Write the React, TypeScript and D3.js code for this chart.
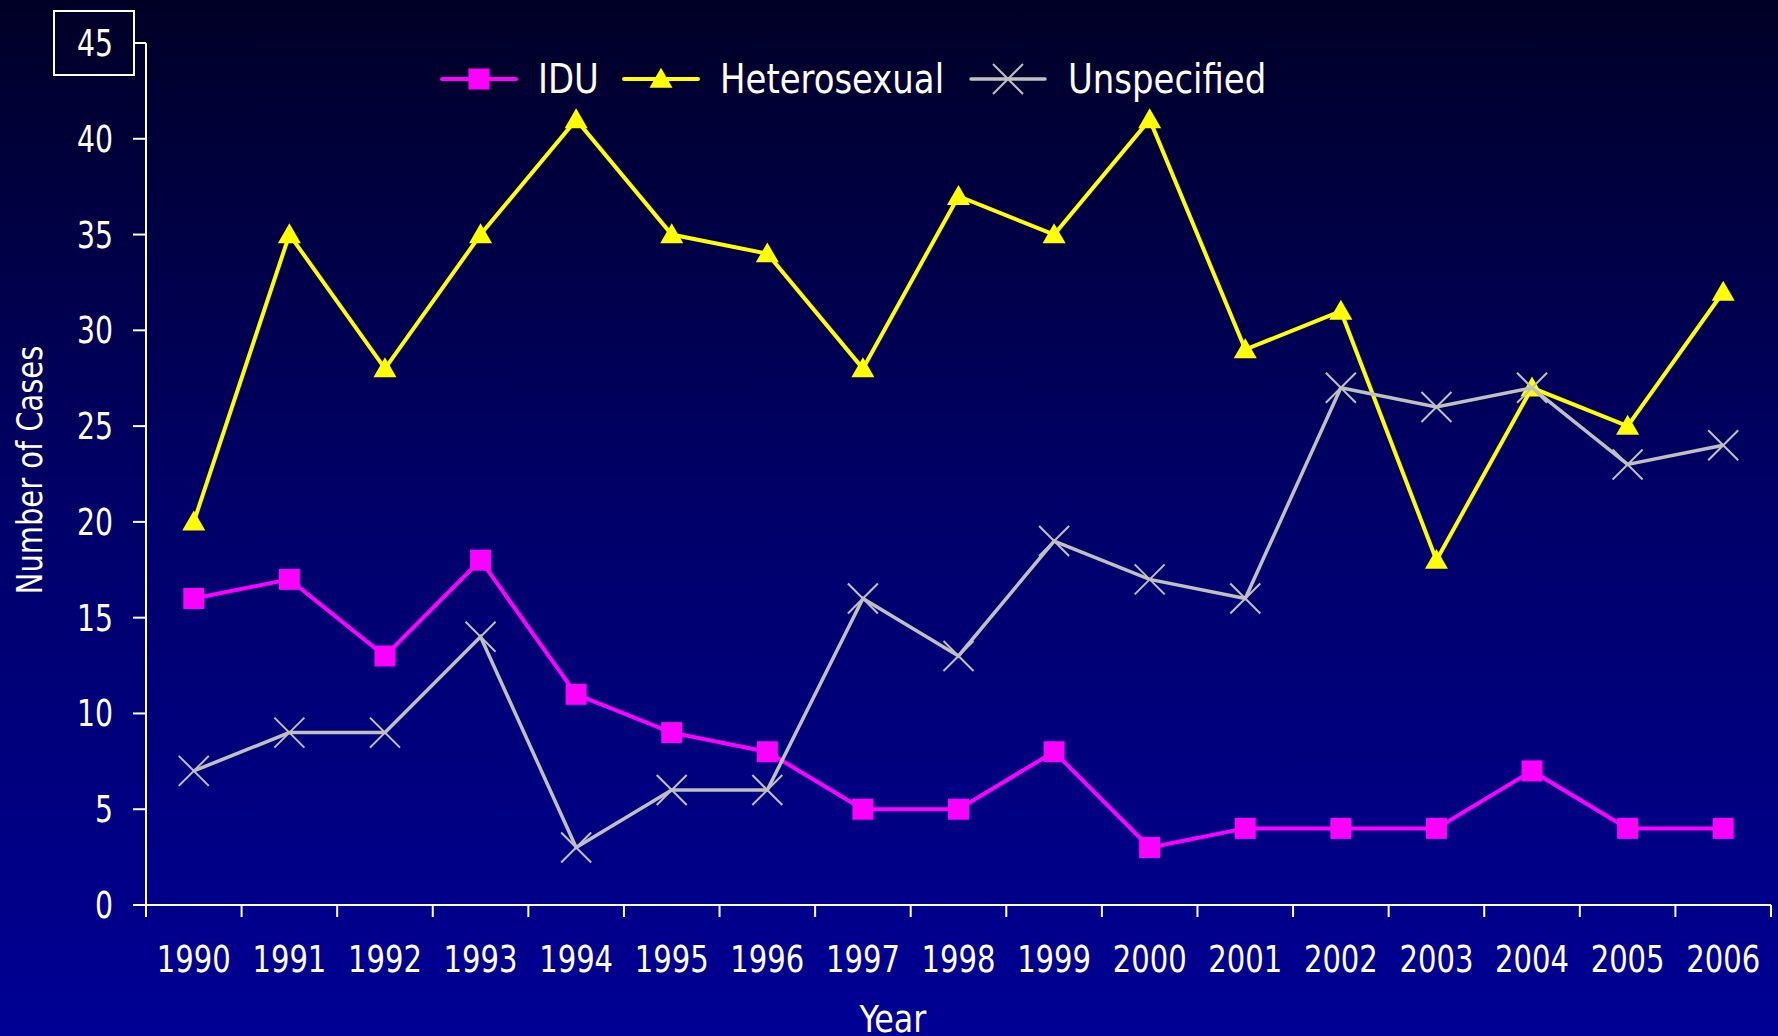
import React from "react";
import * as d3 from "d3";

const years = ["1990","1991","1992","1993","1994","1995","1996","1997","1998","1999","2000","2001","2002","2003","2004","2005","2006"];
const idu = [16,17,13,18,11,9,8,5,5,8,3,4,4,4,7,4,4];
const hetero = [20,35,28,35,41,35,34,28,37,35,41,29,31,18,27,25,32];
const unspecified = [7,9,9,14,3,6,6,16,13,19,17,16,27,26,27,23,24];
const yTicks = [0,5,10,15,20,25,30,35,40,45];
const seriesNames = ["IDU","Heterosexual","Unspecified"];

const W = 1778, H = 1036;
const FONT = "'DejaVu Sans Condensed', 'DejaVu Sans', sans-serif";

type TProps = { x: number; y: number; sx: number; size: number; anchor?: string; rotate?: number; children: React.ReactNode };
function T({ x, y, sx, size, anchor = "start", rotate = 0, children }: TProps) {
  return (
    <text
      transform={`translate(${x},${y}) rotate(${rotate}) scale(${sx},1)`}
      textAnchor={anchor}
      fill="#fff"
      fontSize={size}
    >
      {children}
    </text>
  );
}

export default function App() {
  const x = d3.scaleBand<string>().domain(years).range([146, 1771]).padding(0);
  const y = d3.scaleLinear().domain([0, 45]).range([905, 43]);
  const cx = (yr: string) => (x(yr) as number) + x.bandwidth() / 2;
  const line = d3.line<number>().x((_, i) => cx(years[i])).y(d => y(d));
  const tri = d3.symbol().type(d3.symbolTriangle).size(230)();

  const series = [
    { name: seriesNames[0], data: idu, color: "#FF00FF", width: 4, marker: "square" },
    { name: seriesNames[1], data: hetero, color: "#FFFF00", width: 4, marker: "triangle" },
    { name: seriesNames[2], data: unspecified, color: "#C0C0C0", width: 3.5, marker: "x" },
  ];

  const marker = (type: string, color: string, px: number, py: number, key: string) => {
    if (type === "square") return <rect key={key} x={px - 10.5} y={py - 10.5} width={21} height={21} fill={color} />;
    if (type === "triangle") return <path key={key} d={tri as string} transform={`translate(${px},${py + 2})`} fill={color} />;
    return (
      <g key={key} stroke={color} strokeWidth={2}>
        <line x1={px - 15} y1={py - 15} x2={px + 15} y2={py + 15} />
        <line x1={px - 15} y1={py + 15} x2={px + 15} y2={py - 15} />
      </g>
    );
  };

  const legendItems = [
    { lx: 442, tx: 538 },
    { lx: 624, tx: 720 },
    { lx: 971, tx: 1068 },
  ];

  return (
    <svg width={W} height={H} style={{ position: "absolute", left: 0, top: 0, display: "block" }} fontFamily={FONT}>
      <defs>
        <linearGradient id="bg" x1="0" y1="0" x2="0" y2="1">
          <stop offset="0" stopColor="#000026" />
          <stop offset="0.5" stopColor="#00006A" />
          <stop offset="1" stopColor="#000094" />
        </linearGradient>
      </defs>
      <rect x={0} y={0} width={W} height={H} fill="url(#bg)" />

      {/* y axis */}
      <line x1={146} y1={y(45)} x2={146} y2={y(0)} stroke="#fff" strokeWidth={2} />
      {yTicks.map(t => (
        <g key={t}>
          <line x1={133} x2={146} y1={y(t)} y2={y(t)} stroke="#fff" strokeWidth={2} />
          <T x={113} y={y(t) + 13} sx={0.85} size={37} anchor="end">{t}</T>
        </g>
      ))}
      <rect x={54} y={11} width={80} height={64} fill="none" stroke="#fff" strokeWidth={2} />

      {/* x axis */}
      <line x1={146} x2={1771} y1={y(0)} y2={y(0)} stroke="#fff" strokeWidth={2} />
      {years.map(yr => (
        <line key={"t" + yr} x1={x(yr) as number} x2={x(yr) as number} y1={y(0)} y2={y(0) + 12} stroke="#fff" strokeWidth={2} />
      ))}
      <line x1={1771} x2={1771} y1={y(0)} y2={y(0) + 12} stroke="#fff" strokeWidth={2} />
      {years.map(yr => (
        <T key={"l" + yr} x={cx(yr)} y={972} sx={0.85} size={38} anchor="middle">{yr}</T>
      ))}

      <T x={893} y={1032} sx={0.93} size={38} anchor="middle">Year</T>
      <T x={42} y={470} sx={0.92} size={35} anchor="middle" rotate={-90}>Number of Cases</T>

      {/* series */}
      {series.map(s => (
        <g key={s.name}>
          <path d={line(s.data) as string} fill="none" stroke={s.color} strokeWidth={s.width} strokeLinejoin="miter" />
          {s.data.map((v, i) => marker(s.marker, s.color, cx(years[i]), y(v), s.name + i))}
        </g>
      ))}

      {/* legend */}
      {series.map((s, i) => (
        <g key={"lg" + s.name}>
          <line x1={legendItems[i].lx} x2={legendItems[i].lx + 74} y1={79} y2={79} stroke={s.color} strokeWidth={s.width} strokeLinecap="round" />
          {marker(s.marker, s.color, legendItems[i].lx + 37, 79, "lm" + i)}
          <T x={legendItems[i].tx} y={93} sx={0.92} size={41}>{s.name}</T>
        </g>
      ))}
    </svg>
  );
}
